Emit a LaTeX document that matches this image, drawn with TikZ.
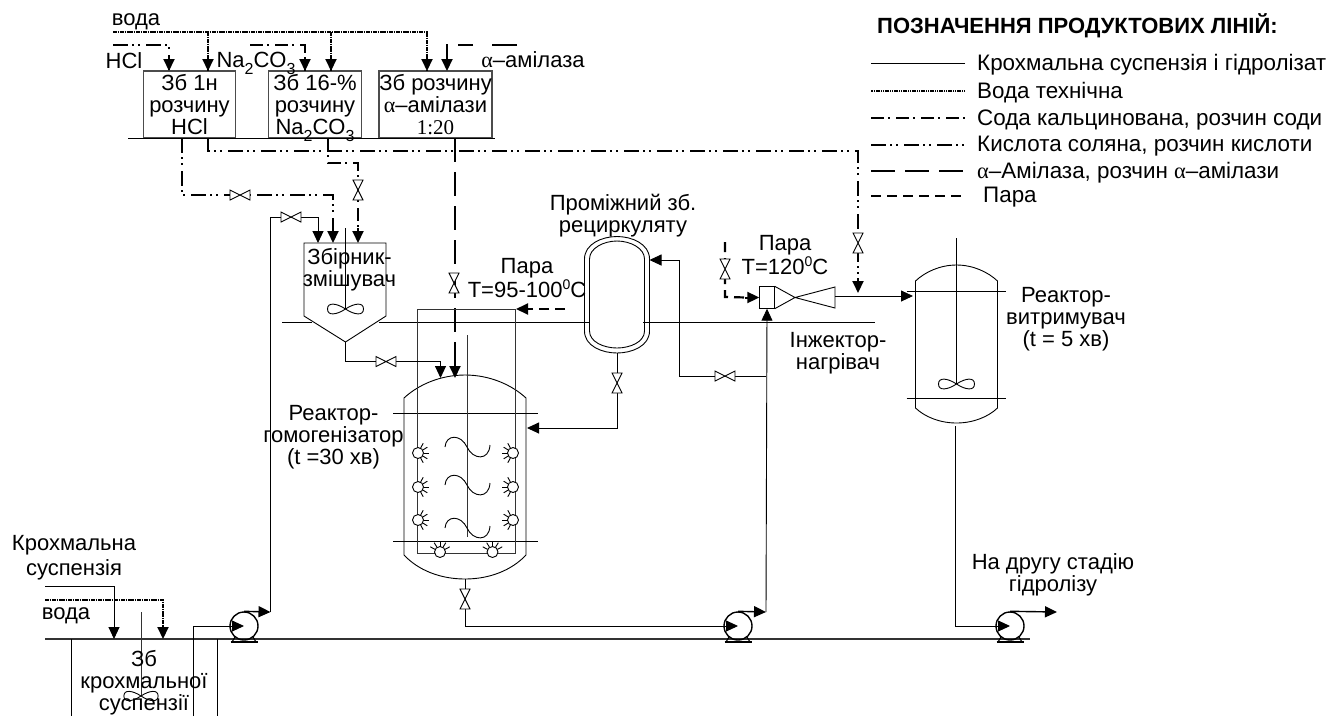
\documentclass[tikz,border=0pt]{standalone}
\usepackage{fontspec}
\setmainfont{Liberation Sans}
\newfontfamily\greekserif{Liberation Serif}
\usetikzlibrary{arrows.meta}
\newcommand{\alphaletter}{{\greekserif α}}
\newcommand{\lowdigit}[1]{\smash{\raisebox{-7pt}{\fontsize{16}{16}\selectfont #1}}}
\newcommand{\highdigit}[1]{\raisebox{8pt}{\fontsize{14}{14}\selectfont #1}}

\begin{document}
\begin{tikzpicture}[
    x=1pt, y=-1pt,
    lbl/.style={inner sep=0pt, align=center, font=\fontsize{22}{22}\selectfont},
    legendlbl/.style={inner sep=0pt, anchor=west, font=\fontsize{22.4}{22}\selectfont},
    tankbox/.style={rectangle, draw=black!70, line width=1.1pt, minimum height=67pt, inner sep=0pt, align=center, font=\fontsize{22}{22}\selectfont, execute at begin node={\rule{0pt}{20pt}}},
    pump/.style={circle, draw, line width=1.4pt, minimum size=28pt, inner sep=0pt},
    pipeline/.style={line width=0.9pt},
    stub/.style={line width=2pt},
    waterline/.style={line width=2.6pt, dash pattern=on 1.7pt off 0.6pt},
    sodaline/.style={line width=2.2pt, dash pattern=on 13pt off 4pt on 2pt off 6pt},
    acidline/.style={line width=2.2pt, dash pattern=on 15pt off 4pt on 2pt off 4pt on 2pt off 6pt},
    amylaseline/.style={line width=2.2pt, dash pattern=on 24pt off 10pt},
    steamline/.style={line width=2.2pt, dash pattern=on 10pt off 6pt},
    arrow/.style={-{Triangle[length=12pt,width=11pt]}},
    valve/.pic={\draw[fill=white, line width=0.9pt] (-10,-5) -- (10,5) -- (10,-5) -- (-10,5) -- cycle;},
    impeller/.pic={\draw[line width=0.9pt] (0,0) .. controls (-9,-6) and (-18,-7) .. (-18,0) .. controls (-18,7) and (-9,6) .. (0,0) .. controls (9,-6) and (18,-7) .. (18,0) .. controls (18,7) and (9,6) .. (0,0);},
    spray/.pic={
        \draw[fill=white, line width=0.9pt] (0,0) circle (5.5);
        \draw[line width=0.9pt] (0:5.5) -- (0:11);
        \draw[line width=0.9pt] (32:5.5) -- (32:11);
        \draw[line width=0.9pt] (-32:5.5) -- (-32:11);
        \draw[line width=0.9pt] (62:5.5) -- (62:11);
        \draw[line width=0.9pt] (-62:5.5) -- (-62:11);
    },
    coilturn/.pic={\draw[line width=0.9pt] (-22,0) .. controls (-21,-13) and (-6,-13) .. (0,0) .. controls (6,13) and (22,14) .. (23,-2);},
    pumpbase/.pic={
        \draw[line width=1.6pt] (-13.5,16) -- (13.5,16);
        \draw[line width=1.1pt] (-9,11) -- (-12,16);
        \draw[line width=1.1pt] (9,11) -- (12,16);
    },
]
    \useasboundingbox (0,0) rectangle (1338,716);

    % top vessels
    \node[tankbox, minimum width=92pt] (hclbox) at (189.5,104.5) {Зб 1н\\розчину\\HCl};
    \node[tankbox, minimum width=93pt] (sodabox) at (315,104.5) {Зб 16-\%\\розчину\\Na\lowdigit{2}CO\lowdigit{3}};
    \node[tankbox, minimum width=113pt] (enzymebox) at (435.5,104.5) {Зб розчину\\\alphaletter–амілази\\{\greekserif\fontsize{21}{22}\selectfont 1:20}};
    \coordinate (floortopa) at (128,138);
    \coordinate (floortopb) at (495,138);
    \draw[pipeline] (floortopa) -- (floortopb);

    % feeds of the top vessels
    \node[lbl] (waterlbl) at (136,22) {вода};
    \node[lbl] (hcllbl) at (124,61) {HCl};
    \node[lbl] (sodalbl) at (256,60) {Na\lowdigit{2}CO\lowdigit{3}};
    \node[lbl] (enzymelbl) at (533,60) {\alphaletter–амілаза};
    \coordinate (waterin) at (113,32);
    \coordinate (waterhcl) at (208,71);
    \coordinate (watersoda) at (331,71);
    \coordinate (waterenzyme) at (427,71);
    \coordinate (acidin) at (113,45);
    \coordinate (acidtip) at (169,71);
    \coordinate (sodain) at (250,45);
    \coordinate (sodatip) at (305,71);
    \coordinate (enzymein) at (517,45);
    \coordinate (enzymetip) at (447,71);
    \draw[waterline] (waterin) -| (waterenzyme);
    \draw[waterline] (waterin -| waterhcl) -- (waterhcl);
    \draw[waterline] (waterin -| watersoda) -- (watersoda);
    \draw[stub, arrow] ([yshift=14pt]waterhcl) -- (waterhcl);
    \draw[stub, arrow] ([yshift=14pt]watersoda) -- (watersoda);
    \draw[stub, arrow] ([yshift=14pt]waterenzyme) -- (waterenzyme);
    \draw[acidline] (acidin) -| (acidtip);
    \draw[stub, arrow] ([yshift=16pt]acidtip) -- (acidtip);
    \draw[sodaline] (sodain) -| (sodatip);
    \draw[stub, arrow] ([yshift=14pt]sodatip) -- (sodatip);
    \draw[amylaseline, dash pattern=on 25pt off 19pt on 15pt off 20pt] (enzymein) -- (enzymein -| enzymetip);
    \draw[stub, arrow] ([yshift=27pt]enzymetip) -- (enzymetip);

    % mixing tank
    \coordinate (mixtl) at (304,243);
    \coordinate (mixtr) at (386,243);
    \coordinate (mixbl) at (304,316);
    \coordinate (mixbr) at (386,316);
    \coordinate (mixapex) at (345.5,342);
    \draw[pipeline] (mixtl) -- (mixtr) -- (mixbr) -- (mixapex) -- (mixbl) -- cycle;
    \coordinate (mixshaft) at (345.5,228);
    \coordinate (mixhub) at (345.5,309);
    \draw[pipeline] (mixshaft) -- (mixhub);
    \pic at (mixhub) {impeller};
    \node[lbl] (mixlbl) at (349.5,270) {Збірник-\\змішувач};

    % lines from the top vessels
    \coordinate (hclout) at (182,138);
    \coordinate (hclbend) at (182,195);
    \coordinate (acidmixtop) at (333,195);
    \coordinate (acidmix) at (333,243);
    \draw[acidline] (hclout) -- (hclbend) -- (acidmixtop) -- ([yshift=9pt]acidmix);
    \draw[stub, arrow] ([yshift=15pt]acidmix) -- (acidmix);
    \pic at (240,195) {valve};
    \coordinate (sodaout) at (328,138);
    \coordinate (sodabend) at (328,163);
    \coordinate (sodabendb) at (358,163);
    \coordinate (sodamix) at (358,243);
    \draw[sodaline] (sodaout) -- (sodabend) -- (sodabendb) -- ([yshift=9pt]sodamix);
    \draw[stub, arrow] ([yshift=15pt]sodamix) -- (sodamix);
    \pic[rotate=90] at (358,190) {valve};
    \coordinate (hclsecond) at (208,138);
    \coordinate (hclsecondb) at (208,151);
    \coordinate (hclfar) at (858,151);
    \coordinate (hcltip) at (858,293);
    \draw[acidline] (hclsecond) -- (hclsecondb) -- (hclfar) -- ([yshift=9pt]hcltip);
    \draw[stub, arrow] ([yshift=15pt]hcltip) -- (hcltip);
    \pic[rotate=90] at (858,243) {valve};
    \coordinate (enzymeout) at (455,138);
    \coordinate (enzymereactor) at (455,378);
    \draw[amylaseline] (enzymeout) -- ([yshift=9pt]enzymereactor);
    \draw[stub, arrow] ([yshift=15pt]enzymereactor) -- (enzymereactor);
    \pic[rotate=90] at (454,283) {valve};

    % deck line
    \coordinate (deckl) at (282,322.5);
    \coordinate (deckmixl) at (312,322.5);
    \coordinate (deckmixr) at (379,322.5);
    \coordinate (deckrecl) at (590,322.5);
    \coordinate (deckrecr) at (643,322.5);
    \coordinate (deckr) at (875,322.5);
    \draw[pipeline] (deckl) -- (deckmixl);
    \draw[pipeline] (deckmixr) -- (deckrecl);
    \draw[pipeline] (deckrecr) -- (deckr);

    % homogenizer reactor
    \draw[pipeline] (404,398) .. controls (418,385) and (440,375) .. (465,375) .. controls (490,375) and (512,385) .. (526,398) -- (526,555) .. controls (512,570) and (490,579) .. (465,579) .. controls (440,579) and (418,570) .. (404,555) -- cycle;
    \coordinate (flangeal) at (393,413.5);
    \coordinate (flangear) at (538,413.5);
    \coordinate (flangebl) at (393,541.5);
    \coordinate (flangebr) at (538,541.5);
    \draw[pipeline] (flangeal) -- (flangear);
    \draw[pipeline] (flangebl) -- (flangebr);
    \draw[pipeline, draw=black!80] (417.5,309) rectangle (515,553);
    \draw[pipeline, draw=black!80] (467.5,335) -- (467.5,537);
    \pic at (467,447) {coilturn};
    \pic at (467,485) {coilturn};
    \pic at (467,528) {coilturn};
    \pic at (418,453) {spray};
    \pic at (418,487) {spray};
    \pic at (418,520) {spray};
    \pic[rotate=180] at (513,453) {spray};
    \pic[rotate=180] at (513,487) {spray};
    \pic[rotate=180] at (513,520) {spray};
    \pic[rotate=90] at (440,552) {spray};
    \pic[rotate=90] at (492.5,552) {spray};
    \node[lbl] (reactorlbl) at (333.5,437.5) {Реактор-\\гомогенізатор\\(t =30 хв)};

    % feeds of the reactor
    \coordinate (mixbend) at (345.5,361.5);
    \coordinate (mixreactor) at (440.5,378);
    \draw[pipeline, arrow] (mixapex) |- (mixreactor |- mixbend) -- (mixreactor);
    \pic at (386,361.5) {valve};
    \coordinate (steamcoil) at (516,309);
    \coordinate (steamcoilin) at (565,309);
    \draw[steamline] (steamcoilin) -- ([xshift=12pt]steamcoil);
    \draw[stub, arrow] ([xshift=14pt]steamcoil) -- (steamcoil);
    \node[lbl] (steamlbl) at (527,278) {Пара\\T=95-100\highdigit{0}C};

    % recirculate vessel
    \draw[pipeline] (584.5,259) .. controls (584.5,244) and (602,236.5) .. (617,236.5) .. controls (632,236.5) and (649.5,244) .. (649.5,259) -- (649.5,331) .. controls (649.5,346) and (632,353) .. (617,353) .. controls (602,353) and (584.5,346) .. (584.5,331) -- cycle;
    \draw[pipeline] (589.5,259) .. controls (589.5,248) and (604,241) .. (617,241) .. controls (630,241) and (644.5,248) .. (644.5,259) -- (644.5,331) .. controls (644.5,342) and (630,348) .. (617,348) .. controls (604,348) and (589.5,342) .. (589.5,331) -- cycle;
    \coordinate (recout) at (617,353);
    \coordinate (recreactor) at (527,428);
    \draw[pipeline, arrow] (recout) |- (recreactor);
    \pic[rotate=90] at (617,383) {valve};
    \node[lbl] (reclbl) at (623,216) {Проміжний зб.\\рециркуляту};

    % injector
    \node[rectangle, draw, line width=0.9pt, minimum width=14.5pt, minimum height=21.5pt, inner sep=0pt] (injector) at (767,297.5) {};
    \coordinate (throat) at (795,297.5);
    \coordinate (nozzletop) at (835,287);
    \coordinate (nozzlebot) at (835,308);
    \draw[pipeline] (injector.north east) -- (throat) -- (nozzletop) -- (nozzlebot) -- (throat) -- (injector.south east);
    \coordinate (steamin) at (725,242);
    \coordinate (steambend) at (725,297);
    \draw[steamline] (steamin) -- (steambend) -- ([xshift=-12pt]injector.west);
    \draw[stub, arrow] ([xshift=-14pt]injector.west) -- (injector.west);
    \pic[rotate=90] at (725,269) {valve};
    \node[lbl] (injsteamlbl) at (785,255) {Пара\\T=120\highdigit{0}C};
    \node[lbl] (injlbl) at (838,353) {Інжектор-\\нагрівач};
    \coordinate (nozzleout) at (835,296);
    \coordinate (holdin) at (913,296);
    \draw[pipeline, arrow] (nozzleout) -- (holdin);

    % holding reactor
    \draw[pipeline] (915.5,281) .. controls (925,272) and (940,265) .. (956.5,265) .. controls (973,265) and (988,272) .. (997.5,281) -- (997.5,408) .. controls (988,417) and (973,423) .. (956.5,423) .. controls (940,423) and (925,417) .. (915.5,408) -- cycle;
    \coordinate (holdfla) at (906.5,291.5);
    \coordinate (holdflb) at (1005.5,291.5);
    \coordinate (holdflc) at (906.5,398.5);
    \coordinate (holdfld) at (1005.5,398.5);
    \draw[pipeline] (holdfla) -- (holdflb);
    \draw[pipeline] (holdflc) -- (holdfld);
    \coordinate (holdshaft) at (956.5,238);
    \coordinate (holdhub) at (956.5,384);
    \draw[pipeline] (holdshaft) -- (holdhub);
    \pic at (holdhub) {impeller};
    \node[lbl] (holdlbl) at (1066,319) {Реактор-\\витримувач\\(t = 5 хв)};

    % bottom tank
    \coordinate (tankleft) at (45,639);
    \coordinate (lineend) at (1030,639);
    \draw[line width=1.2pt, draw=black!80] (tankleft) -- (lineend);
    \coordinate (tankwalla) at (71.5,639);
    \coordinate (tankwallb) at (217,639);
    \draw[pipeline] (tankwalla) -- (71.5,716);
    \draw[pipeline] (tankwallb) -- (217,716);
    \coordinate (tankshaft) at (141,612);
    \coordinate (tankhub) at (141,696);
    \draw[pipeline, draw=black!80] (tankshaft) -- (tankhub);
    \pic[scale=0.95] at (tankhub) {impeller};
    \node[lbl] (tanklbl) at (144,683) {Зб\\крохмальної\\суспензії};
    \node[lbl] (starchlbl) at (74,558) {Крохмальна\\[3pt]суспензія};
    \node[lbl] (water2lbl) at (66,616) {вода};
    \coordinate (starchin) at (45,586);
    \coordinate (starchtip) at (114,639);
    \coordinate (water2in) at (45,600);
    \coordinate (water2tip) at (163,639);
    \draw[pipeline, arrow] (starchin) -| (starchtip);
    \draw[waterline] (water2in) -| ([yshift=10pt]water2tip);
    \draw[stub, arrow] ([yshift=14pt]water2tip) -- (water2tip);

    % pumps
    \node[pump] (pumpa) at (244,626) {};
    \node[pump] (pumpb) at (738,626) {};
    \node[pump] (pumpc) at (1010,626) {};
    \pic at (pumpa) {pumpbase};
    \pic at (pumpb) {pumpbase};
    \pic at (pumpc) {pumpbase};
    \coordinate (suction) at (193.5,716);
    \coordinate (suctionbend) at (193.5,626);
    \draw[pipeline, arrow] (suction) -- (suctionbend) -- (pumpa.center);
    \coordinate (pumpatip) at (270.5,612);
    \draw[arrow, line width=1.4pt] (pumpa.north) -- (pumpatip);
    \coordinate (recycle) at (270.5,217);
    \coordinate (recyclemix) at (318,243);
    \draw[pipeline] (pumpatip) -- (recycle);
    \draw[pipeline, arrow] (recycle) -| (recyclemix);
    \pic at (291,217) {valve};
    \coordinate (reactorout) at (465,579);
    \coordinate (reactorbend) at (465,626);
    \draw[pipeline, arrow] (reactorout) -- (reactorbend) -- (pumpb.center);
    \pic[rotate=90] at (465,599) {valve};
    \coordinate (pumpbtip) at (766,612);
    \draw[arrow, line width=1.4pt] (pumpb.north) -- (pumpbtip);
    \draw[pipeline, arrow] (pumpbtip) -- (injector.south);
    \coordinate (branch) at (766,376);
    \coordinate (branchb) at (679,376);
    \coordinate (branchc) at (679,260);
    \coordinate (rectip) at (649.5,260);
    \draw[pipeline, arrow] (branch) -- (branchb) -- (branchc) -- (rectip);
    \pic at (725,376) {valve};
    \coordinate (holdout) at (955,426);
    \coordinate (holdbend) at (955,626);
    \draw[pipeline, arrow] (holdout) -- (holdbend) -- (pumpc.center);
    \coordinate (secondstage) at (1057,612);
    \draw[arrow, line width=1.4pt] (pumpc.north) -- (secondstage);
    \node[lbl] (stagelbl) at (1053,575) {На другу стадію\\гідролізу};

    % legend
    \node[lbl, anchor=west, font=\bfseries\fontsize{22}{22}\selectfont] (legendtitle) at (877,26) {ПОЗНАЧЕННЯ ПРОДУКТОВИХ ЛІНІЙ:};
    \node[legendlbl] (lgstarch) at (977,65) {Крохмальна суспензія і гідролізат};
    \node[legendlbl] (lgwater) at (977,92.5) {Вода технічна};
    \node[legendlbl] (lgsoda) at (977,119.5) {Сода кальцинована, розчин соди};
    \node[legendlbl] (lgacid) at (977,146.5) {Кислота соляна, розчин кислоти};
    \node[legendlbl] (lgenzyme) at (977,172.5) {\alphaletter–Амілаза, розчин \alphaletter–амілази};
    \node[legendlbl] (lgsteam) at (983,197.5) {Пара};
    \draw[pipeline] ([xshift=-12pt,yshift=2pt]lgstarch.west) -- ([xshift=-106pt,yshift=2pt]lgstarch.west);
    \draw[line width=2pt, dash pattern=on 1.2pt off 0.6pt] ([xshift=-12pt,yshift=1.5pt]lgwater.west) -- ([xshift=-106pt,yshift=1.5pt]lgwater.west);
    \draw[sodaline] ([xshift=-106pt,yshift=1.5pt]lgsoda.west) -- ([xshift=-12pt,yshift=1.5pt]lgsoda.west);
    \draw[acidline] ([xshift=-106pt,yshift=1.5pt]lgacid.west) -- ([xshift=-12pt,yshift=1.5pt]lgacid.west);
    \draw[amylaseline] ([xshift=-106pt,yshift=1.5pt]lgenzyme.west) -- ([xshift=-12pt,yshift=1.5pt]lgenzyme.west);
    \draw[steamline] ([xshift=-112pt,yshift=1.5pt]lgsteam.west) -- ([xshift=-17pt,yshift=1.5pt]lgsteam.west);
\end{tikzpicture}
\end{document}
